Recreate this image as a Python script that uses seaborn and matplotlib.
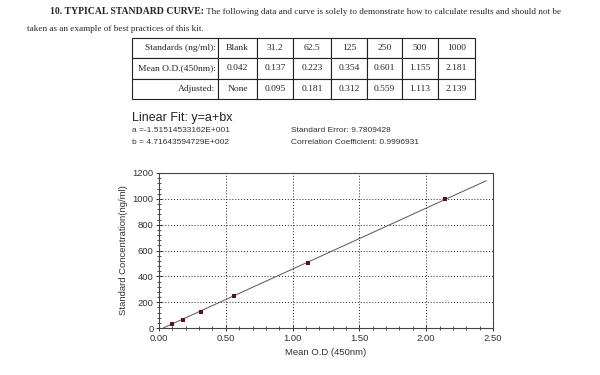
import numpy as np
import pandas as pd
import seaborn as sns
import matplotlib
matplotlib.use("Agg")
import matplotlib.pyplot as plt
from matplotlib.ticker import AutoMinorLocator, MultipleLocator

# tabel dari kit
standards_lbl = ["Blank", "31.2", "62.5", "125", "250", "500", "1000"]
mean_od = ["0.042", "0.137", "0.223", "0.354", "0.601", "1.155", "2.181"]
adjusted_lbl = ["None", "0.095", "0.181", "0.312", "0.559", "1.113", "2.139"]

# titik kurva standar (tanpa blank)
conc = [31.2, 62.5, 125, 250, 500, 1000]
adjusted = [0.095, 0.181, 0.312, 0.559, 1.113, 2.139]

# hasil linear fit
fit_a = -15.1514533162
fit_b = 471.6435947295
fit_x_end = 2.45

sns.set_theme(style="white")
plt.rcParams['font.family'] = ['Liberation Sans', 'DejaVu Sans']

fig = plt.figure(figsize=(6, 3.75), dpi=100)

# judul: bagian tebal dulu, lalu sisa kalimat tepat sesudahnya
serif = ['Liberation Serif', 'DejaVu Serif']
head = fig.text(50 / 600, 1 - 12 / 375, "10. TYPICAL STANDARD CURVE:", family=serif,
                fontsize=7, weight='bold', va='center', ha='left')
renderer = fig.canvas.get_renderer()
bb = head.get_window_extent(renderer)
fig.text(bb.x1 / fig.bbox.width, 1 - 12 / 375,
         " The following data and curve is solely to demonstrate how to calculate results and should not be",
         family=serif, fontsize=6.6, va='center', ha='left')
fig.text(27 / 600, 1 - 29 / 375, "taken as an example of best practices of this kit.",
         family=serif, fontsize=6.6, va='center', ha='left')

# tabel
tab_ax = fig.add_axes([132 / 600, 1 - 99 / 375, (475 - 132) / 600, (99 - 38) / 375])
tab_ax.axis('off')
cells = [["Standards (ng/ml):"] + standards_lbl,
         ["Mean O.D.(450nm):"] + mean_od,
         ["Adjusted:"] + adjusted_lbl]
col_w = np.array([86, 39, 36, 38, 36, 35, 36, 37], dtype=float)
tbl = tab_ax.table(cellText=cells, colWidths=list(col_w / col_w.sum()),
                   bbox=[0, 0, 1, 1], cellLoc='center')
tbl.auto_set_font_size(False)
for (r, c), cell in tbl.get_celld().items():
    cell.set_linewidth(0.8)
    cell.set_edgecolor('#222222')
    cell.get_text().set_fontsize(6.8)
    cell.get_text().set_fontfamily(serif)
    if c == 0:
        cell.get_text().set_ha('right')
        cell._loc = 'right'
        cell.PAD = 0.03

# teks fit
fig.text(132 / 600, 1 - 118 / 375, "Linear Fit: y=a+bx", fontsize=9, color='#222222', va='center')
fig.text(132 / 600, 1 - 131 / 375, "a =-1.51514533162E+001", fontsize=6, color='#333333', va='center')
fig.text(132 / 600, 1 - 143 / 375, "b = 4.71643594729E+002", fontsize=6, color='#333333', va='center')
fig.text(291 / 600, 1 - 131 / 375, "Standard Error: 9.7809428", fontsize=6, color='#333333', va='center')
fig.text(291 / 600, 1 - 143 / 375, "Correlation Coefficient: 0.9996931", fontsize=6, color='#333333', va='center')

# grafik
ax = fig.add_axes([159 / 600, 1 - 328 / 375, (493 - 159) / 600, (328 - 173) / 375])
fx = np.linspace(-fit_a / fit_b, fit_x_end, 50)
fit_df = pd.DataFrame({'x': fx, 'y': fit_a + fit_b * fx})
sns.lineplot(data=fit_df, x='x', y='y', ax=ax, color='#555555', linewidth=0.7)
pts = pd.DataFrame({'od': adjusted, 'conc': conc})
sns.scatterplot(data=pts, x='od', y='conc', ax=ax, marker='s', s=8,
                color='#5a1020', edgecolor='none', zorder=3)

ax.set_xlim(0, 2.5)
ax.set_ylim(0, 1200)
ax.xaxis.set_major_locator(MultipleLocator(0.5))
ax.yaxis.set_major_locator(MultipleLocator(200))
ax.xaxis.set_minor_locator(AutoMinorLocator(5))
ax.yaxis.set_minor_locator(AutoMinorLocator(5))
ax.set_xticks(np.arange(0, 2.51, 0.5))
ax.set_xticklabels(["0.00", "0.50", "1.00", "1.50", "2.00", "2.50"])
ax.grid(True, which='major', linestyle=(0, (1, 2)), color='#222222', linewidth=0.7)
ax.tick_params(which='both', direction='inout', color='#333333', labelsize=6.8,
               labelcolor='#333333', bottom=True, left=True, pad=2)
ax.tick_params(which='major', length=4, width=0.7)
ax.tick_params(which='minor', length=2.5, width=0.6)
for sp in ax.spines.values():
    sp.set_color('#444444')
    sp.set_linewidth(0.8)
ax.set_xlabel("Mean O.D (450nm)", fontsize=6.8, color='#333333', labelpad=4)
ax.set_ylabel("Standard Concentration(ng/ml)", fontsize=6.8, color='#333333', labelpad=3)

fig.savefig("out.png", dpi=100)
